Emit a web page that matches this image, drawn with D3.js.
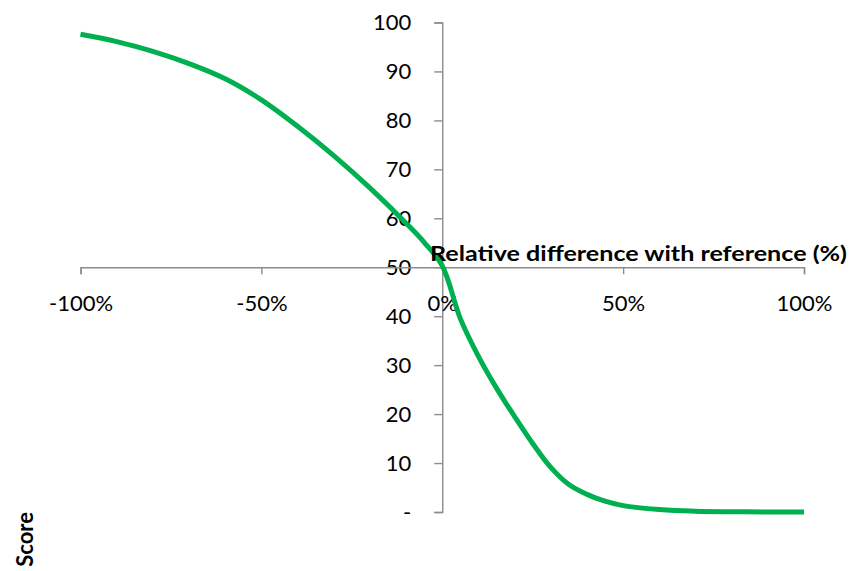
<!DOCTYPE html>
<html>
<head>
<meta charset="utf-8">
<script src="https://cdn.jsdelivr.net/npm/d3@7"></script>
<style>
  html, body { margin: 0; padding: 0; background: #fff; }
  svg { display: block; }
</style>
</head>
<body>
<svg id="chart" width="851" height="571"></svg>
<script>
// Data
const diffPct = [-1.00, -0.90, -0.80, -0.70, -0.60, -0.50, -0.40, -0.30, -0.20, -0.10, -0.05,
                 0.00, 0.05, 0.10, 0.15, 0.20, 0.25, 0.30, 0.35, 0.40, 0.45, 0.50, 0.60, 0.70, 0.80, 0.90, 1.00];
const scoreValues = [97.6, 96.1, 94.1, 91.6, 88.5, 84.2, 78.8, 72.8, 66.2, 59.0, 55.1,
                     50.3, 39.5, 31.8, 25.3, 19.5, 14.0, 9.1, 5.6, 3.6, 2.2, 1.3, 0.5, 0.15, 0.05, 0.0, 0.0];
const xTicks = [-1, -0.5, 0, 0.5, 1];
const yTicks = [0, 10, 20, 30, 40, 50, 60, 70, 80, 90, 100];
const xTitle = "Relative difference with reference (%)";
const yTitle = "Score";

const svg = d3.select("#chart");
const x = d3.scaleLinear().domain([-1, 1]).range([80.5, 804]);
const y = d3.scaleLinear().domain([0, 100]).range([512, 22.5]);

const axisColor = "#8c8c8c";
const font = "Lato, 'Open Sans', sans-serif";

// Y axis at x = 0
const yAxis = d3.axisLeft(y).tickValues(yTicks).tickSize(8).tickPadding(23)
  .tickFormat(d => d === 0 ? "-" : String(d));
const gy = svg.append("g").attr("transform", `translate(${x(0)},0)`).call(yAxis);

// X axis at y = 50
const xAxis = d3.axisBottom(x).tickValues(xTicks).tickSize(7).tickPadding(20)
  .tickFormat(d => Math.round(d * 100) + "%");
const gx = svg.append("g").attr("transform", `translate(0,${y(50)})`).call(xAxis);

[gy, gx].forEach(g => {
  g.selectAll("path, line").attr("stroke", axisColor).attr("stroke-width", 1.4);
  g.selectAll("text").attr("fill", "#000").style("font-family", font).style("font-size", "22px");
});
gx.selectAll("text").attr("dy", "0.76em");

// Curve
const line = d3.line()
  .x((d, i) => x(diffPct[i]))
  .y(d => y(d))
  .curve(d3.curveCatmullRom.alpha(0.5));
svg.append("path")
  .datum(scoreValues)
  .attr("d", line)
  .attr("fill", "none")
  .attr("stroke", "#00B050")
  .attr("stroke-width", 5)
  .attr("stroke-linejoin", "round");

// X axis title
svg.append("text")
  .attr("x", 430).attr("y", 261)
  .attr("textLength", 417).attr("lengthAdjust", "spacingAndGlyphs")
  .style("font-family", font).style("font-size", "21px").style("font-weight", "bold")
  .attr("fill", "#000")
  .text(xTitle);

// Y axis title
svg.append("text")
  .attr("transform", "translate(33,512) rotate(-90)")
  .attr("text-anchor", "end")
  .style("font-family", font).style("font-size", "22px").style("font-weight", "bold")
  .attr("fill", "#000")
  .text(yTitle);
</script>
</body>
</html>
